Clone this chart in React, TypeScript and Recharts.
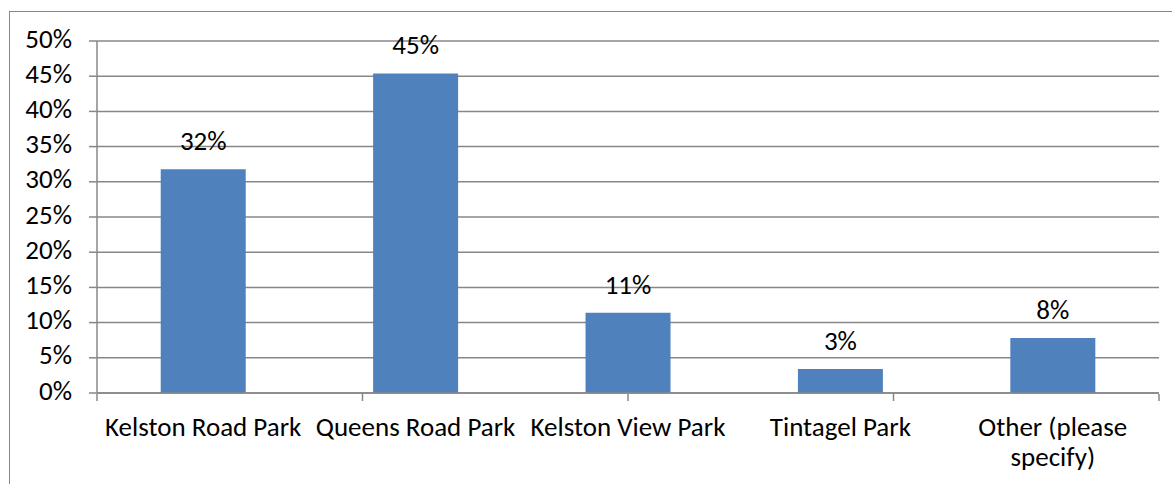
import React from 'react';
import { BarChart, Bar, XAxis, YAxis, CartesianGrid, LabelList } from 'recharts';

const parks = ['Kelston Road Park', 'Queens Road Park', 'Kelston View Park', 'Tintagel Park', 'Other (please\nspecify)'];
const shares = [31.8, 45.4, 11.4, 3.4, 7.8];
const shareLabels = ['32%', '45%', '11%', '3%', '8%'];
const yTicks = [0, 5, 10, 15, 20, 25, 30, 35, 40, 45, 50];
const edgeTicks = [0, 1, 2, 3, 4, 5];

const data = parks.map((park, i) => ({ park, share: shares[i], label: shareLabels[i] }));

const FONT = 'Carlito, Calibri, "Open Sans", sans-serif';
const FONT_SIZE = 27;
const GRAY = '#878787';

const ParkTick = ({ x, y, payload }: any) => {
  const lines = String(payload.value).split('\n');
  return (
    <text x={x} y={y} textAnchor="middle" fill="#000" fontSize={FONT_SIZE} fontFamily={FONT}>
      {lines.map((line, i) => (
        <tspan key={i} x={x} dy={i === 0 ? 43 : 30}>
          {line}
        </tspan>
      ))}
    </text>
  );
};

const App: React.FC = () => {
  return (
    <div style={{ position: 'absolute', left: 0, top: 0, width: 1172, height: 484, overflow: 'hidden', background: '#fff' }}>
      {/* chart border, runs off the right and bottom edges */}
      <div style={{ position: 'absolute', left: 9, top: 11, width: 1200, height: 600, border: `1.5px solid ${GRAY}` }} />
      <div style={{ position: 'absolute', left: 0, top: 0 }}>
        <BarChart
          width={1172}
          height={484}
          data={data}
          margin={{ top: 41, right: 13, left: 0, bottom: 89 }}
          barCategoryGap="30%"
        >
          <CartesianGrid vertical={false} stroke={GRAY} strokeWidth={1.5} />
          <XAxis
            dataKey="park"
            height={1}
            interval={0}
            tickSize={0}
            tickMargin={0}
            tickLine={false}
            axisLine={{ stroke: GRAY, strokeWidth: 1.5 }}
            tick={<ParkTick />}
          />
          {/* tick marks between categories */}
          <XAxis
            xAxisId="edges"
            type="number"
            domain={[0, 5]}
            ticks={edgeTicks}
            interval={0}
            allowDataOverflow
            height={1}
            tickFormatter={() => ''}
            tickSize={7}
            axisLine={false}
            tickLine={{ stroke: GRAY, strokeWidth: 1.5 }}
          />
          <YAxis
            width={97}
            domain={[0, 50]}
            ticks={yTicks}
            interval={0}
            tickSize={8}
            tickMargin={17}
            tickFormatter={(v: number) => `${v}%`}
            tick={{ fill: '#000', fontSize: FONT_SIZE, fontFamily: FONT, dy: -3 }}
            axisLine={{ stroke: GRAY, strokeWidth: 1.5 }}
            tickLine={{ stroke: GRAY, strokeWidth: 1.5 }}
          />
          <Bar dataKey="share" fill="#4F81BD" isAnimationActive={false}>
            <LabelList dataKey="label" position="top" offset={19} fill="#000" fontSize={FONT_SIZE} fontFamily={FONT} />
          </Bar>
        </BarChart>
      </div>
    </div>
  );
};

export default App;
